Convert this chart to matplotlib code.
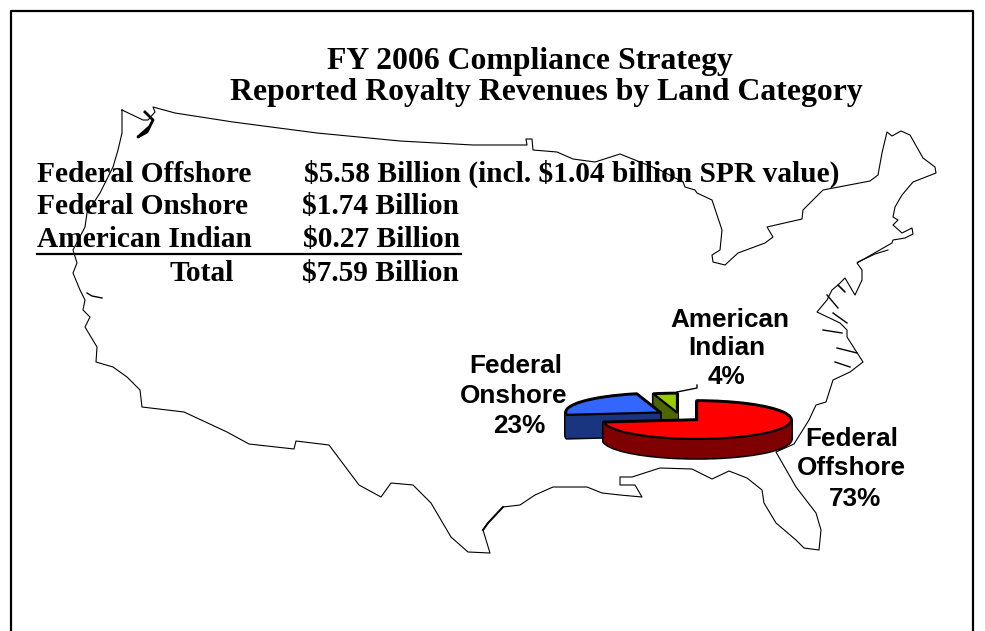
import matplotlib
matplotlib.use('Agg')
from matplotlib import pyplot as plt

# Table at upper left
table_names = ['Federal Offshore', 'Federal Onshore', 'American Indian']
table_values = ['$5.58 Billion (incl. $1.04 billion SPR value)', '$1.74 Billion', '$0.27 Billion']
total_name = 'Total'
total_value = '$7.59 Billion'

# Pie shares, clockwise from 12 o'clock
pie_names = ['Federal Offshore', 'Federal Onshore', 'American Indian']
pie_values = [73, 23, 4]
pie_tops = ['#ff0000', '#3366ff', '#99cc00']
pie_sides = ['#7f0000', '#1a3580', '#4d6600']

# Map outline in pixels
map_x = [122, 122, 118, 113, 100, 87, 85, 73, 77, 73, 80, 85, 83, 90, 85, 97, 96, 113, 127, 140,
         142, 184, 227, 249, 294, 296, 329, 359, 381, 391, 413, 431, 451, 468, 490, 483, 488, 503,
         520, 535, 553, 587, 602, 620, 642, 635, 620, 620, 632, 660, 692, 712, 729, 747, 762, 764,
         776, 796, 804, 819, 821, 816, 796, 776, 794, 809, 816, 826, 833, 850, 863, 847, 847, 840,
         817, 827, 832, 838, 845, 838, 845, 855, 862, 862, 857, 892, 893, 905, 913, 912, 902, 893,
         898, 893, 895, 902, 913, 936, 935, 923, 910, 901, 892, 887, 882, 878, 870, 823, 803, 802,
         767, 773, 765, 738, 725, 713, 712, 720, 722, 712, 697, 695, 685, 683, 660, 640, 620, 595,
         573, 557, 533, 532, 526, 527, 480, 473, 400, 317, 233, 175, 153, 155, 148, 143, 122]
map_y = [110, 133, 150, 167, 193, 213, 227, 250, 263, 273, 290, 300, 310, 317, 327, 347, 362, 367, 377, 390,
         407, 412, 432, 444, 449, 441, 445, 485, 497, 483, 485, 503, 537, 552, 553, 530, 523, 507,
         505, 495, 487, 487, 493, 495, 497, 485, 485, 477, 477, 468, 469, 479, 471, 478, 490, 503,
         523, 540, 548, 550, 530, 513, 487, 452, 444, 420, 405, 402, 380, 372, 362, 337, 330, 323,
         312, 300, 290, 285, 292, 285, 278, 295, 280, 270, 263, 243, 240, 238, 234, 228, 233, 225,
         220, 217, 207, 195, 182, 173, 167, 158, 135, 131, 136, 132, 153, 175, 181, 190, 210, 219,
         227, 237, 243, 253, 265, 262, 255, 250, 230, 200, 193, 190, 187, 182, 170, 162, 154, 162,
         159, 152, 150, 139, 139, 145, 145, 145, 141, 133, 122, 113, 107, 112, 120, 120, 110]
puget_x = [145, 153, 147, 138, 148]
puget_y = [112, 120, 132, 137, 128]
bay_x = [87, 92, 102]
bay_y = [293, 296, 298]
island_x = [858, 875, 888]
island_y = [262, 254, 250]
# small inlets along the Atlantic side
inlet_x = [[833, 847], [823, 842], [837, 857], [835, 850], [827, 838]]
inlet_y = [[313, 323], [330, 333], [348, 353], [362, 367], [295, 308]]
# thicker stretch of the Texas coast
texas_x = [483, 488, 503]
texas_y = [530, 523, 507]

W, H = 985, 631
fig = plt.figure(figsize=(W / 100, H / 100), dpi=100)
ax = fig.add_axes([0, 0, 1, 1])
ax.set_xlim(0, W)
ax.set_ylim(H, 0)
ax.axis('off')

# Slide border, open at the bottom
ax.plot([11, 11, 973, 973], [631, 11, 11, 631], color='black', lw=1.6)

ax.plot(map_x, map_y, color='black', lw=0.8)
ax.plot(puget_x, puget_y, color='black', lw=2)
ax.plot(bay_x, bay_y, color='black', lw=1)
ax.plot(island_x, island_y, color='black', lw=0.8)
ax.plot(texas_x, texas_y, color='black', lw=1.4)
for xs, ys in zip(inlet_x, inlet_y):
    ax.plot(xs, ys, color='black', lw=1)

serif = dict(family='Liberation Serif', weight='bold', color='black', parse_math=False)
sans = dict(family='Liberation Sans', weight='bold', color='black', parse_math=False)

ax.text(530, 69, 'FY 2006 Compliance Strategy', ha='center', va='baseline', fontsize=22.9, **serif)
ax.text(546, 100, 'Reported Royalty Revenues by Land Category', ha='center', va='baseline', fontsize=22.9, **serif)

# Table text
rows_y = [182, 214, 247]
values_x = [304, 302, 303]
for name, value, y, x in zip(table_names, table_values, rows_y, values_x):
    ax.text(37, y, name, va='baseline', fontsize=21.2, **serif)
    ax.text(x, y, value, va='baseline', fontsize=21.2, **serif)
ax.plot([37, 461], [253.5, 253.5], color='black', lw=1.6)
ax.text(170, 281, total_name, va='baseline', fontsize=21.2, **serif)
ax.text(302, 281, total_value, va='baseline', fontsize=21.2, **serif)

# Pie: a second axes where one unit is a radius, so the circles come out as ellipses
rx, ry = 94, 19
ax_pie = fig.add_axes([0, 0, 1, 1])
ax_pie.patch.set_alpha(0)
slice_centers = [(697, 420), (660, 412.5), (677, 412.5)]
depths = [19, 23, 20]


def pie_slice(i, cx, cy, drop, color, edge, lw):
    wedges, _ = ax_pie.pie(pie_values, startangle=90, counterclock=False,
                           center=(cx / rx, (H - cy - drop) / ry), radius=1,
                           wedgeprops=dict(linewidth=lw, edgecolor=edge, joinstyle='round'),
                           colors=[color] * 3)
    for j, w in enumerate(wedges):
        if j != i:
            w.remove()


# back to front: small slice, then blue, then red
for i in [2, 1, 0]:
    cx, cy = slice_centers[i]
    for drop in range(depths[i], -1, -1):
        pie_slice(i, cx, cy, drop, 'black', 'black', 2.6)
    for drop in range(depths[i], 0, -1):
        pie_slice(i, cx, cy, drop, pie_sides[i], pie_sides[i], 0.5)
    pie_slice(i, cx, cy, 0, pie_tops[i], 'black', 1.6)

ax_pie.set_aspect('auto')
ax_pie.set_xlim(0, W / rx)
ax_pie.set_ylim(0, H / ry)
ax_pie.axis('off')

# Leader line for the small slice
ax.plot([677, 697, 697], [392, 388, 385], color='black', lw=1)
ax.set_zorder(ax_pie.get_zorder() + 1)
ax.patch.set_alpha(0)

# Pie labels, one line at a time
label_lines = [['Federal', 'Offshore', '%d%%' % pie_values[0]],
               ['Federal', 'Onshore', '%d%%' % pie_values[1]],
               ['American', 'Indian', '%d%%' % pie_values[2]]]
label_x = [[852, 851, 855], [516, 514, 519], [730, 727, 727]]
label_y = [[446, 475, 506], [373, 403, 433], [327, 355, 384]]
for lines, xs, ys in zip(label_lines, label_x, label_y):
    for line, x, y in zip(lines, xs, ys):
        ax.text(x, y, line, ha='center', va='baseline', fontsize=18.8, **sans)

fig.savefig('out.png', dpi=100)
